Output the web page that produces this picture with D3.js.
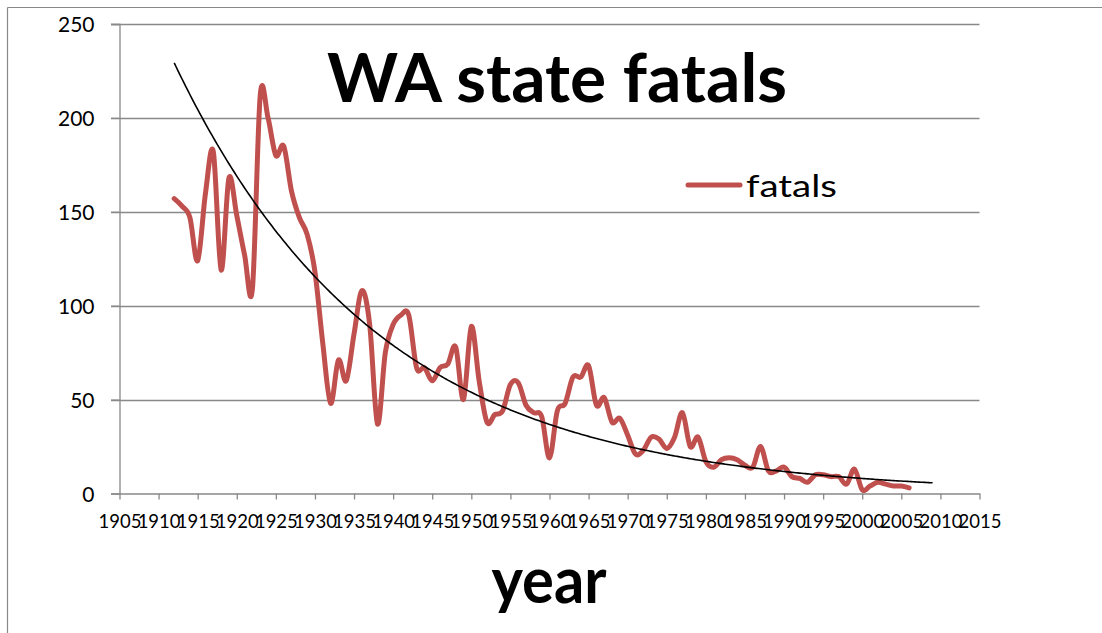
<!DOCTYPE html>
<html>
<head>
<meta charset="utf-8">
<script src="https://cdn.jsdelivr.net/npm/d3@7"></script>
<style>
  html, body { margin: 0; padding: 0; background: #fff; }
  svg { display: block; }
  text { font-family: Lato, "Open Sans", sans-serif; fill: #000; }
</style>
</head>
<body>
<svg id="chart" width="1102" height="633"></svg>
<script>
// ---- data ----
const years = d3.range(1912, 2007);
const fatals = [
  157, 153, 147, 124, 160, 182, 119, 168, 148, 127,   // 1912-1921
  109, 212, 200, 180, 185, 161, 147, 138, 118, 80,    // 1922-1931
  48, 71, 60, 85, 108, 90, 37, 75, 90, 95,            // 1932-1941
  95, 67, 67, 60, 67, 69, 78, 50, 89, 60,             // 1942-1951
  38, 42, 44, 58, 59, 47, 43, 41, 19, 44,             // 1952-1961
  48, 62, 62, 68, 47, 51, 38, 40, 31, 21,             // 1962-1971
  23, 30, 29, 24, 30, 43, 25, 30, 17, 14,             // 1972-1981
  18, 19, 18, 15, 14, 25, 12, 12, 14, 9,              // 1982-1991
  8, 6, 10, 10, 9, 9, 5, 13, 2, 4,                    // 1992-2001
  6, 5, 4, 4, 3                                       // 2002-2006
];
const xTicks = d3.range(1905, 2016, 5);
const yTicks = [0, 50, 100, 150, 200, 250];
const seriesName = "fatals";
const titleText = "WA state fatals";
const xTitle = "year";
const trendForward = 3;

// ---- layout ----
const svg = d3.select("#chart");
const x = d3.scaleLinear().domain([1905, 2015]).range([119.5, 979.5]);
const y = d3.scaleLinear().domain([0, 250]).range([493.5, 24]);
const gray = "#898989";

// outer chart border (top and left visible)
svg.append("line").attr("x1", 7.5).attr("x2", 1102).attr("y1", 7.5).attr("y2", 7.5)
  .attr("stroke", gray).attr("stroke-width", 1.2);
svg.append("line").attr("x1", 7.5).attr("x2", 7.5).attr("y1", 7.5).attr("y2", 633)
  .attr("stroke", gray).attr("stroke-width", 1.2);

// gridlines
svg.append("g").selectAll("line").data(yTicks.filter(d => d > 0)).join("line")
  .attr("x1", 111).attr("x2", 979.5)
  .attr("y1", d => Math.round(y(d)) + 0.5).attr("y2", d => Math.round(y(d)) + 0.5)
  .attr("stroke", gray).attr("stroke-width", 1.3);

// y axis
const yAxis = svg.append("g").attr("transform", "translate(119.5,0)")
  .call(d3.axisLeft(y).tickValues(yTicks).tickSize(8.5).tickPadding(0).tickFormat(d3.format("d")));
yAxis.select(".domain").attr("stroke", gray).attr("stroke-width", 1.3);
yAxis.selectAll(".tick line").attr("stroke", gray).attr("stroke-width", 1.3);
yAxis.selectAll(".tick text").attr("x", -25).attr("dy", "0.36em")
  .style("font-size", "21px").style("font-family", "Lato, sans-serif").attr("fill", "#000");

// x axis
const xAxis = svg.append("g").attr("transform", "translate(0,493.5)")
  .call(d3.axisBottom(x).tickValues(xTicks).tickSize(6).tickSizeOuter(0).tickPadding(0).tickFormat(d3.format("d")));
xAxis.select(".domain").attr("stroke", gray).attr("stroke-width", 1.3);
xAxis.selectAll(".tick line").attr("stroke", gray).attr("stroke-width", 1.3);
xAxis.selectAll(".tick text").attr("y", 34).attr("dy", 0)
  .style("font-size", "18.5px").style("font-family", "Lato, sans-serif").attr("fill", "#000");

// series line (smoothed)
const pts = years.map((yr, i) => [yr, fatals[i]]);
const line = d3.line().x(d => x(d[0])).y(d => y(d[1])).curve(d3.curveCatmullRom.alpha(0));
svg.append("path").datum(pts).attr("d", line)
  .attr("fill", "none").attr("stroke", "#C0504D").attr("stroke-width", 5)
  .attr("stroke-linejoin", "round").attr("stroke-linecap", "round");

// exponential trendline (least squares on ln values)
const mx = d3.mean(pts, d => d[0]);
const my = d3.mean(pts, d => Math.log(d[1]));
const b = d3.sum(pts, d => (d[0] - mx) * (Math.log(d[1]) - my)) / d3.sum(pts, d => (d[0] - mx) ** 2);
const a = my - b * mx;
const tStart = years[0], tEnd = years[years.length - 1] + trendForward;
const trendPts = d3.range(tStart, tEnd + 0.001, 0.25).map(t => [t, Math.exp(a + b * t)]);
svg.append("path").datum(trendPts)
  .attr("d", d3.line().x(d => x(d[0])).y(d => y(d[1])))
  .attr("fill", "none").attr("stroke", "#000").attr("stroke-width", 1.6);

// title
svg.append("text").attr("x", 557).attr("y", 101.5).attr("text-anchor", "middle")
  .attr("textLength", 460).attr("lengthAdjust", "spacingAndGlyphs")
  .style("font-size", "67px").style("font-weight", "bold").text(titleText);

// legend
svg.append("line").attr("x1", 688).attr("x2", 740).attr("y1", 185).attr("y2", 185)
  .attr("stroke", "#C0504D").attr("stroke-width", 5).attr("stroke-linecap", "round");
svg.append("text").attr("x", 746).attr("y", 196.5)
  .attr("textLength", 91).attr("lengthAdjust", "spacingAndGlyphs")
  .style("font-size", "31px").text(seriesName);

// x axis title
svg.append("text").attr("x", 549).attr("y", 603).attr("text-anchor", "middle")
  .attr("textLength", 115).attr("lengthAdjust", "spacingAndGlyphs")
  .style("font-size", "64px").style("font-weight", "bold").text(xTitle);
</script>
</body>
</html>
